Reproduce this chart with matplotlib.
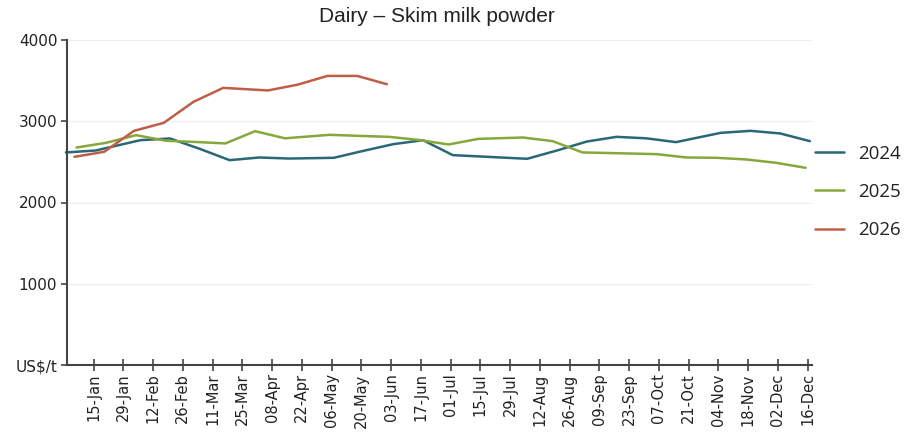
import numpy as np
import matplotlib
matplotlib.use("Agg")
import matplotlib.pyplot as plt

# ---- data ----
tick_labels = ["15-Jan", "29-Jan", "12-Feb", "26-Feb", "11-Mar", "25-Mar", "08-Apr",
               "22-Apr", "06-May", "20-May", "03-Jun", "17-Jun", "01-Jul", "15-Jul",
               "29-Jul", "12-Aug", "26-Aug", "09-Sep", "23-Sep", "07-Oct", "21-Oct",
               "04-Nov", "18-Nov", "02-Dec", "16-Dec"]

dates_2024 = ["2024-01-02", "2024-01-16", "2024-02-06", "2024-02-20", "2024-03-05",
              "2024-03-19", "2024-04-02", "2024-04-16", "2024-05-07", "2024-05-21",
              "2024-06-04", "2024-06-18", "2024-07-02", "2024-07-16", "2024-08-06",
              "2024-08-20", "2024-09-03", "2024-09-17", "2024-10-01", "2024-10-15",
              "2024-11-05", "2024-11-19", "2024-12-03", "2024-12-17"]
values_2024 = [2616, 2640, 2767, 2788, 2660, 2521, 2554, 2541, 2550, 2636,
               2718, 2767, 2583, 2565, 2538, 2640, 2750, 2808, 2790, 2743,
               2857, 2882, 2850, 2755]

dates_2025 = ["2025-01-07", "2025-01-21", "2025-02-04", "2025-02-18", "2025-03-04",
              "2025-03-18", "2025-04-01", "2025-04-15", "2025-05-06", "2025-05-20",
              "2025-06-03", "2025-06-17", "2025-07-01", "2025-07-15", "2025-08-05",
              "2025-08-19", "2025-09-02", "2025-09-16", "2025-10-07", "2025-10-21",
              "2025-11-04", "2025-11-18", "2025-12-02", "2025-12-16"]
values_2025 = [2677, 2735, 2829, 2760, 2745, 2727, 2878, 2790, 2833, 2820,
               2808, 2770, 2714, 2783, 2800, 2755, 2616, 2608, 2595, 2554,
               2550, 2530, 2489, 2427]

dates_2026 = ["2026-01-06", "2026-01-20", "2026-02-03", "2026-02-17", "2026-03-03",
              "2026-03-17", "2026-04-07", "2026-04-21", "2026-05-05", "2026-05-19",
              "2026-06-02"]
values_2026 = [2562, 2624, 2882, 2980, 3239, 3411, 3379, 3450, 3558, 3558, 3456]

series_names = ["2024", "2025", "2026"]
colors = ["#2b6875", "#86a83a", "#bf5e48"]


def day_of_year(ds):
    d = np.array(ds, dtype="datetime64[D]")
    y = d.astype("datetime64[Y]")
    return (d - y).astype(int) + 1


months = {"Jan": "01", "Feb": "02", "Mar": "03", "Apr": "04", "May": "05", "Jun": "06",
          "Jul": "07", "Aug": "08", "Sep": "09", "Oct": "10", "Nov": "11", "Dec": "12"}
tick_pos = day_of_year(["2024-%s-%s" % (months[l[3:]], l[:2]) for l in tick_labels])

fig = plt.figure(figsize=(9.22, 4.33), dpi=100)
ax = fig.add_axes([67 / 922, 1 - 365 / 433, (812 - 67) / 922, (365 - 40) / 433])

for dates, vals, name, c in zip([dates_2024, dates_2025, dates_2026],
                                [values_2024, values_2025, values_2026],
                                series_names, colors):
    ax.plot(day_of_year(dates), vals, color=c, lw=1.8, label=name, clip_on=False,
            solid_capstyle="round")

ax.set_xlim(2.5, 353)
ax.set_ylim(0, 4000)
ax.set_yticks([0, 1000, 2000, 3000, 4000])
ax.set_yticklabels(["US$/t", "1000", "2000", "3000", "4000"])
ax.set_xticks(tick_pos)
ax.set_xticklabels(tick_labels, rotation=90)

for s in ["top", "right"]:
    ax.spines[s].set_visible(False)
for s in ["left", "bottom"]:
    ax.spines[s].set_color("#444444")
    ax.spines[s].set_linewidth(1.5)

ax.grid(axis="y", color="#eeeeee", lw=0.9)
ax.set_axisbelow(True)
ax.tick_params(axis="x", direction="inout", length=8, width=1.2, color="#444444",
               labelsize=10.5, labelcolor="#222222", pad=2)
ax.tick_params(axis="y", direction="out", length=4, width=1.2, color="#444444",
               labelsize=11, labelcolor="#222222", pad=3)
for lbl in ax.get_xticklabels() + ax.get_yticklabels():
    lbl.set_family("DejaVu Sans")

fig.text(437 / 922, 1 - 17 / 433, "Dairy \u2013 Skim milk powder", ha="center", va="center",
         fontsize=15, family="Liberation Sans", color="#222222")

leg = fig.legend(loc="center left", bbox_to_anchor=(806 / 922, 1 - 192 / 433),
                 frameon=False, prop={"family": "Open Sans", "size": 13.5},
                 handlelength=1.55, handletextpad=0.75, labelspacing=1.08, borderpad=0)
for t in leg.get_texts():
    t.set_color("#222222")

fig.savefig("out.png", dpi=100)
